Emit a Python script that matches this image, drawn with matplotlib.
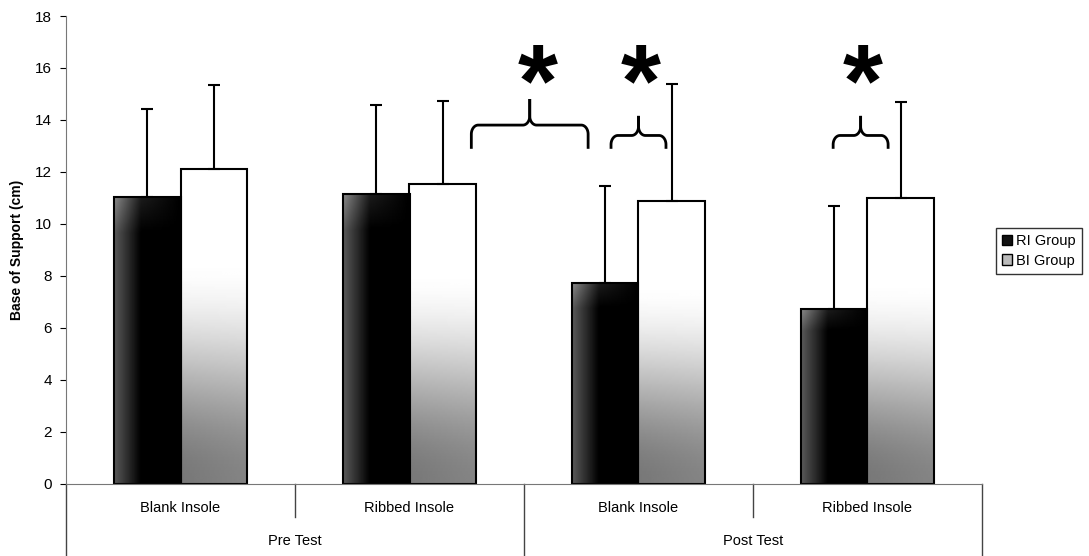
import matplotlib.pyplot as plt
import numpy as np
from matplotlib.patches import Patch

plt.rcParams['font.family'] = ['Liberation Sans', 'DejaVu Sans']

tests = ["Pre Test", "Post Test"]
insoles = ["Blank Insole", "Ribbed Insole", "Blank Insole", "Ribbed Insole"]
groups = ["RI Group", "BI Group"]
ri_mean = [11.02, 11.16, 7.71, 6.71]
ri_err = [3.40, 3.42, 3.74, 3.97]
bi_mean = [12.12, 11.52, 10.88, 11.00]
bi_err = [3.21, 3.19, 4.52, 3.70]

# significance braces: (x0, x1, foot, mid, tip) in data units
braces = [(1.77, 2.28, 12.94, 13.8, 14.75), (2.38, 2.62, 12.94, 13.4, 14.1), (3.35, 3.59, 12.94, 13.4, 14.1)]
stars = [(2.06, 16.0), (2.51, 16.0), (3.48, 16.0)]

fig = plt.figure(figsize=(10.89, 5.56), dpi=100)
ax = fig.add_axes([66 / 1089, 1 - 483.5 / 556, (982 - 66) / 1089, 467.5 / 556])

x = np.arange(len(insoles)) + 0.5
w = 0.29


def dark_grad():
    gx = np.linspace(0, 1, 60)[None, :]
    gy = np.linspace(0, 1, 100)[:, None]
    g = np.clip(0.35 - gx / 0.4 * 0.35, 0, 1) * np.ones_like(gy)
    g = g + np.clip(gy - 0.88, 0, 1) * 1.5 * (1 - gx)
    return np.clip(g, 0, 1)


def light_grad():
    gy = np.linspace(0, 1, 100)[:, None]  # 0 bottom, 1 top
    gx = np.linspace(0, 1, 40)[None, :]
    t = np.clip(gy / 0.72, 0, 1)
    t = t * t * (3 - 2 * t)
    g = 0.52 + 0.48 * t - 0.05 * (1 - gx) * (1 - t)
    return np.clip(g, 0, 1)


for xi, m in zip(x - w / 2, ri_mean):
    ax.imshow(dark_grad(), cmap='gray', vmin=0, vmax=1, origin='lower', aspect='auto',
              extent=(xi - w / 2, xi + w / 2, 0, m), zorder=1, interpolation='bilinear')
for xi, m in zip(x + w / 2, bi_mean):
    ax.imshow(light_grad(), cmap='gray', vmin=0, vmax=1, origin='lower', aspect='auto',
              extent=(xi - w / 2, xi + w / 2, 0, m), zorder=1, interpolation='bilinear')

ax.bar(x - w / 2, ri_mean, w, facecolor='none', edgecolor='black', linewidth=1.5, zorder=2)
ax.bar(x + w / 2, bi_mean, w, facecolor='none', edgecolor='black', linewidth=1.5, zorder=2)
ax.errorbar(x - w / 2, ri_mean, yerr=[np.zeros(4), ri_err], fmt='none', ecolor='black',
            elinewidth=1.5, capsize=4, capthick=1.5, zorder=3)
ax.errorbar(x + w / 2, bi_mean, yerr=[np.zeros(4), bi_err], fmt='none', ecolor='black',
            elinewidth=1.5, capsize=4, capthick=1.5, zorder=3)

# curly braces
a = np.linspace(0, np.pi / 2, 20)
for x0, x1, foot, mid, tip in braces:
    xm = (x0 + x1) / 2
    rx = 0.03
    ry = 0.35
    ry2 = min(0.35, (tip - mid) * 0.6)
    lx = np.concatenate([[x0], x0 + rx - rx * np.cos(a), xm - rx + rx * np.sin(a), [xm]])
    ly = np.concatenate([[foot], mid - ry + ry * np.sin(a), mid + ry2 - ry2 * np.cos(a), [tip]])
    ax.plot(lx, ly, color='black', lw=2.0, clip_on=False)
    ax.plot(2 * xm - lx, ly, color='black', lw=2.0, clip_on=False)

for sx, sy in stars:
    ax.text(sx, sy - 0.85, '*', ha='center', va='center', fontsize=74, fontweight='bold')

ax.set_xlim(0, 4)
ax.set_ylim(0, 18)
ax.set_yticks(range(0, 19, 2))
ax.tick_params(axis='y', direction='out', length=4, labelsize=11, colors='black', width=0.8, pad=6)
ax.set_xticks([])
for s in ['top', 'right']:
    ax.spines[s].set_visible(False)
ax.spines['left'].set_color('#777777')
ax.spines['bottom'].set_color('#777777')
ax.set_ylabel('Base of Support (cm)', fontsize=10, fontweight='bold', labelpad=8)

# two level category axis
tr = ax.get_xaxis_transform()
lo_short = -0.072
lo_long = -0.16
for b in [1, 3]:
    ax.plot([b, b], [0, lo_short], color='#444444', lw=1, transform=tr, clip_on=False)
for b in [0, 2, 4]:
    ax.plot([b, b], [0, lo_long], color='#444444', lw=1, transform=tr, clip_on=False)
for xi, lab in zip(x, insoles):
    ax.text(xi, -0.052, lab, transform=tr, ha='center', va='center', fontsize=10.5)
for gi, lab in enumerate(tests):
    ax.text(2 * gi + 1, -0.123, lab, transform=tr, ha='center', va='center', fontsize=10.5)

handles = [Patch(facecolor='#111111', edgecolor='black', label=groups[0]),
           Patch(facecolor='#bbbbbb', edgecolor='black', label=groups[1])]
fig.legend(handles=handles, loc='upper left', bbox_to_anchor=(996 / 1089, 1 - 228 / 556),
           frameon=True, fancybox=False, edgecolor='black', fontsize=10.5, handlelength=0.7,
           handleheight=0.7, handletextpad=0.3, borderpad=0.4, labelspacing=0.4, borderaxespad=0)

fig.savefig('out.png', dpi=100)
